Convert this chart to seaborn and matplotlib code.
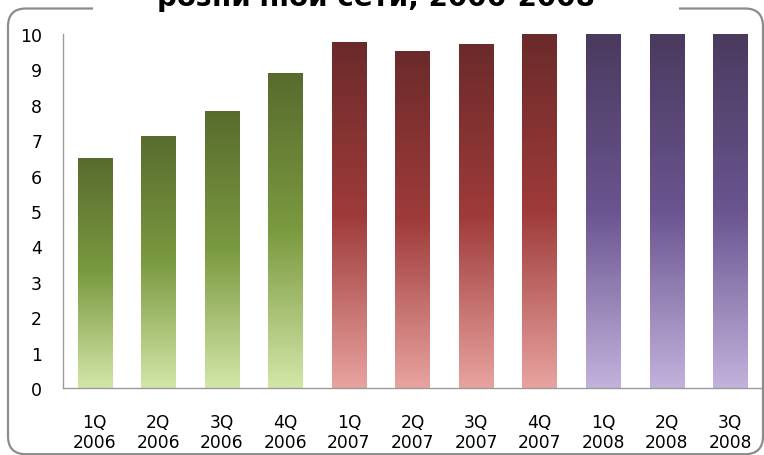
import numpy as np
import pandas as pd
import matplotlib
matplotlib.use("Agg")
import matplotlib.pyplot as plt
import matplotlib.transforms as mtransforms
import seaborn as sns
from matplotlib.colors import LinearSegmentedColormap
from matplotlib.patches import FancyBboxPatch, Rectangle
from matplotlib.ticker import FixedLocator

# ---- data ----
quarters = ["1Q", "2Q", "3Q", "4Q", "1Q", "2Q", "3Q", "4Q", "1Q", "2Q", "3Q"]
years = ["2006", "2006", "2006", "2006", "2007", "2007", "2007", "2007", "2008", "2008", "2008"]
values = [6.5, 7.12, 7.83, 8.89, 9.77, 9.52, 9.72, 10.0, 10.0, 10.0, 10.0]
y_ticks = [0, 1, 2, 3, 4, 5, 6, 7, 8, 9, 10]
title_text = "розничной сети, 2006-2008"

# gradient colours per year: bottom, middle, top
gradients = {
    "2006": ["#d3e6a8", "#7a9a40", "#586b2e"],
    "2007": ["#e8a3a0", "#9e3b3a", "#6b2a2a"],
    "2008": ["#c2b2dc", "#6a5590", "#4a3a5e"],
}

labels = [f"{q}\n{y}" for q, y in zip(quarters, years)]
df = pd.DataFrame({"label": labels, "year": years, "value": values})

sns.set_style("white")
plt.rcParams["font.family"] = ["DejaVu Sans"]

W, H = 764, 456
fig = plt.figure(figsize=(W / 100, H / 100), dpi=100)
ax = fig.add_axes([63 / W, 67 / H, 699 / W, 354 / H])

palette = {y: c[1] for y, c in gradients.items()}
sns.barplot(data=df, x="label", y="value", hue="year", palette=palette,
            dodge=False, width=0.54, legend=False, saturation=1, ax=ax,
            order=labels)

# gradient fill for each bar
grad = np.linspace(0, 1, 256).reshape(-1, 1)
for p in list(ax.patches):
    x0 = p.get_x()
    w = p.get_width()
    h = p.get_height()
    if h <= 0:
        continue
    idx = int(round(x0 + w / 2))
    cols = gradients[years[idx]]
    cmap = LinearSegmentedColormap.from_list("g", cols)
    im = ax.imshow(grad, extent=[x0, x0 + w, 0, h], origin="lower",
                   cmap=cmap, aspect="auto", zorder=p.get_zorder() + 0.1,
                   interpolation="bilinear")
    im.set_clip_path(p)

ax.set_xlim(-0.5, len(labels) - 0.5)
ax.set_ylim(0, 10)
ax.set_xlabel("")
ax.set_ylabel("")
ax.set_yticks(y_ticks)
ax.set_facecolor("none")

for s in ["top", "right"]:
    ax.spines[s].set_visible(False)
for s in ["left", "bottom"]:
    ax.spines[s].set_color("#9a9a9a")
    ax.spines[s].set_linewidth(1.0)

ax.xaxis.set_minor_locator(FixedLocator(np.arange(-0.5, len(labels), 1.0)))
ax.tick_params(axis="x", which="major", length=0, pad=18, labelsize=12.3,
               colors="black")
ax.tick_params(axis="x", which="minor", length=3.8, width=1, color="#9a9a9a",
               direction="out")
ax.tick_params(axis="y", which="major", length=5, width=1, color="#9a9a9a",
               direction="out", pad=10, labelsize=12.5, labelcolor="black")
for t in ax.get_xticklabels():
    t.set_linespacing(1.12)

# frame with rounded corners and a gap for the title
pix = mtransforms.Affine2D().scale(1 / W, 1 / H) + fig.transFigure
frame = FancyBboxPatch((8, 0.8), 755, 445.7,
                       boxstyle="round,pad=0,rounding_size=18",
                       transform=pix, facecolor="none", edgecolor="#8c8c8c",
                       linewidth=1.6, zorder=5)
fig.patches.append(frame)
gap = Rectangle((93, 440), 586, 14, transform=pix, facecolor="white",
                edgecolor="none", zorder=6)
fig.patches.append(gap)

fig.text(376 / W, (H - 6.5) / H, title_text, ha="center", va="baseline",
         fontsize=20, fontweight="bold", color="black", zorder=7)

fig.savefig("out.png", dpi=100, facecolor="white")
